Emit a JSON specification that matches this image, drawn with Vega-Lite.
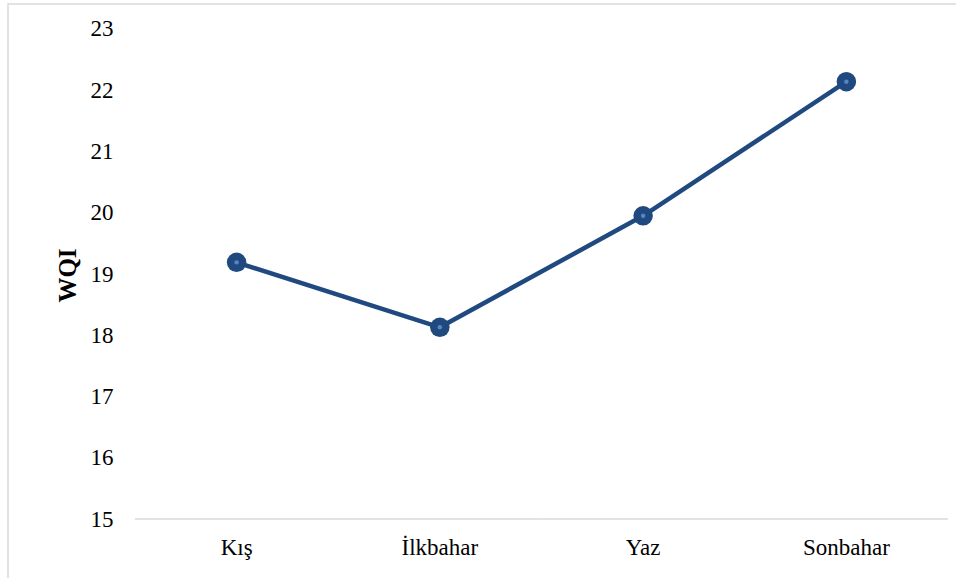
{
  "$schema": "https://vega.github.io/schema/vega-lite/v6.json",
  "width": 960,
  "height": 580,
  "autosize": {"type": "none"},
  "padding": {"left": 8, "top": 4, "right": 0, "bottom": 0},
  "background": "white",
  "config": {"view": {"stroke": "#d9d9d9", "strokeWidth": 1.5}, "font": "Liberation Serif"},
  "data": {"values": [
    {"season": "Kış", "wqi": 19.19},
    {"season": "İlkbahar", "wqi": 18.13},
    {"season": "Yaz", "wqi": 19.95},
    {"season": "Sonbahar", "wqi": 22.14}
  ]},
  "encoding": {
    "x": {
      "field": "season", "type": "nominal", "sort": null,
      "scale": {"type": "band", "paddingInner": 0, "paddingOuter": 0.3616, "align": 0.8639},
      "axis": {"title": null, "domain": false, "ticks": false, "labelAngle": 0, "labelFontSize": 23, "labelColor": "black", "labelPadding": 17, "offset": -65, "labelFont": "Liberation Serif"}
    },
    "y": {
      "field": "wqi", "type": "quantitative",
      "scale": {"domain": [13.939, 23.408], "nice": false, "zero": false},
      "axis": {"title": "WQI", "values": [15, 16, 17, 18, 19, 20, 21, 22, 23], "domain": false, "ticks": false, "tickSize": 0, "grid": false, "labelPadding": 0, "offset": -105, "labelFontSize": 23, "labelColor": "black", "labelFont": "Liberation Serif", "titleFont": "Liberation Serif", "titleFontSize": 25, "titleFontWeight": "bold", "titleColor": "black", "titleX": -46, "titleY": 271, "titleAngle": -90, "titleAlign": "center", "titleBaseline": "middle"}
    }
  },
  "layer": [
    {
      "mark": {"type": "bar", "fill": null, "stroke": "#d9d9d9", "strokeWidth": 1.5},
      "encoding": {"y": {"datum": 15, "type": "quantitative"}, "y2": {"datum": 15}}
    },
    {"mark": {"type": "line", "color": "#204a7f", "strokeWidth": 4.5}},
    {"mark": {"type": "point", "filled": true, "color": "#204a7f", "size": 380, "opacity": 1}},
    {"mark": {"type": "point", "filled": true, "color": "#5585c4", "size": 20, "opacity": 1}}
  ]
}
